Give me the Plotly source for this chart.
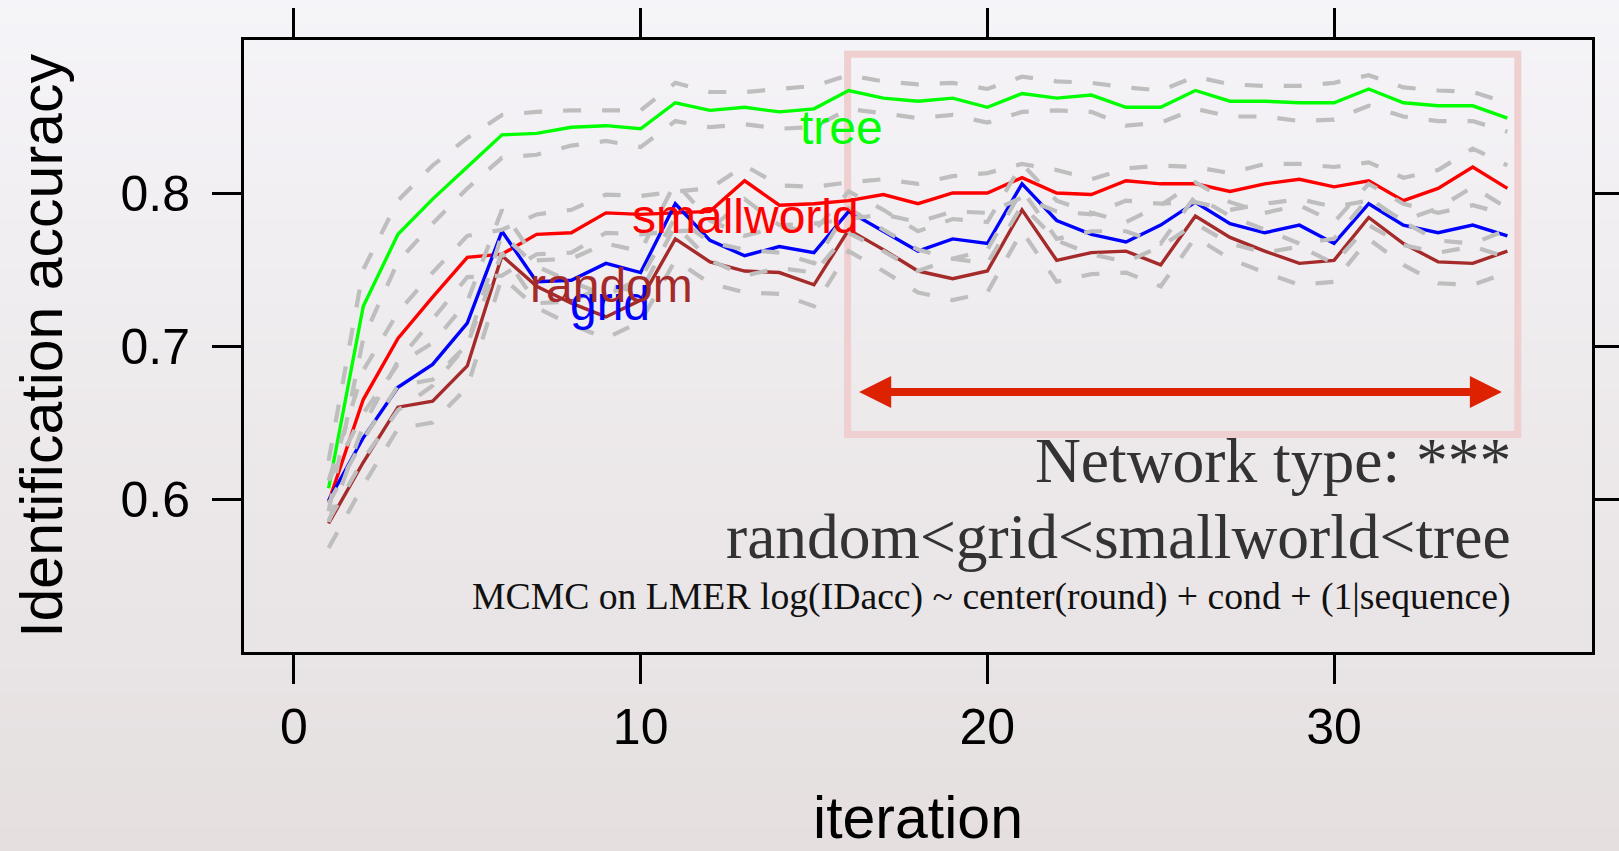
import plotly.graph_objects as go

# ---------------- data ----------------
iteration = list(range(1, 36))

tree = [0.607, 0.726, 0.773, 0.796, 0.817, 0.838, 0.839, 0.843, 0.844, 0.842,
        0.859, 0.854, 0.856, 0.853, 0.855, 0.867, 0.862, 0.860, 0.862, 0.856,
        0.865, 0.862, 0.864, 0.856, 0.856, 0.867, 0.860, 0.860, 0.859, 0.859,
        0.868, 0.859, 0.857, 0.857, 0.849]
tree_hi = [0.625, 0.750, 0.795, 0.818, 0.836, 0.851, 0.853, 0.854, 0.854, 0.854,
           0.872, 0.866, 0.866, 0.868, 0.870, 0.877, 0.873, 0.871, 0.872, 0.868,
           0.876, 0.873, 0.872, 0.869, 0.867, 0.876, 0.871, 0.870, 0.870, 0.872,
           0.877, 0.869, 0.867, 0.866, 0.859]
tree_lo = [0.592, 0.705, 0.755, 0.780, 0.803, 0.823, 0.825, 0.831, 0.834, 0.830,
           0.847, 0.843, 0.845, 0.842, 0.843, 0.855, 0.852, 0.849, 0.851, 0.846,
           0.853, 0.854, 0.853, 0.844, 0.846, 0.855, 0.850, 0.850, 0.847, 0.848,
           0.857, 0.850, 0.847, 0.847, 0.840]

smallworld = [0.598, 0.665, 0.705, 0.732, 0.758, 0.760, 0.773, 0.774, 0.787, 0.786,
              0.787, 0.788, 0.808, 0.792, 0.793, 0.795, 0.799, 0.793, 0.800, 0.800,
              0.810, 0.800, 0.799, 0.808, 0.806, 0.806, 0.801, 0.806, 0.809, 0.804,
              0.808, 0.795, 0.803, 0.817, 0.803]
smallworld_hi = [0.612, 0.684, 0.722, 0.748, 0.772, 0.776, 0.786, 0.789, 0.799, 0.798,
                 0.801, 0.803, 0.818, 0.805, 0.804, 0.807, 0.809, 0.806, 0.811, 0.813,
                 0.819, 0.815, 0.809, 0.816, 0.818, 0.817, 0.813, 0.819, 0.819, 0.817,
                 0.820, 0.810, 0.815, 0.829, 0.818]
smallworld_lo = [0.585, 0.648, 0.690, 0.718, 0.745, 0.746, 0.760, 0.761, 0.774, 0.773,
                 0.775, 0.776, 0.796, 0.779, 0.780, 0.783, 0.786, 0.781, 0.788, 0.787,
                 0.797, 0.788, 0.786, 0.795, 0.793, 0.794, 0.789, 0.793, 0.796, 0.791,
                 0.795, 0.782, 0.790, 0.804, 0.790]

grid = [0.599, 0.640, 0.673, 0.688, 0.715, 0.775, 0.742, 0.743, 0.754, 0.748,
        0.793, 0.769, 0.759, 0.765, 0.761, 0.788, 0.775, 0.762, 0.770, 0.767,
        0.806, 0.782, 0.773, 0.768, 0.779, 0.794, 0.780, 0.774, 0.779, 0.767,
        0.793, 0.779, 0.774, 0.779, 0.772]
grid_hi = [0.612, 0.656, 0.688, 0.702, 0.729, 0.789, 0.756, 0.757, 0.767, 0.762,
           0.807, 0.782, 0.772, 0.778, 0.775, 0.801, 0.789, 0.775, 0.783, 0.781,
           0.819, 0.795, 0.787, 0.781, 0.792, 0.807, 0.794, 0.787, 0.792, 0.781,
           0.806, 0.793, 0.787, 0.792, 0.786]
grid_lo = [0.586, 0.626, 0.658, 0.674, 0.701, 0.761, 0.728, 0.729, 0.740, 0.735,
           0.779, 0.756, 0.746, 0.751, 0.748, 0.774, 0.762, 0.749, 0.757, 0.754,
           0.792, 0.769, 0.760, 0.755, 0.765, 0.780, 0.767, 0.761, 0.765, 0.754,
           0.779, 0.766, 0.761, 0.765, 0.758]

random_ = [0.584, 0.624, 0.660, 0.664, 0.687, 0.759, 0.739, 0.728, 0.719, 0.730,
           0.770, 0.755, 0.749, 0.748, 0.740, 0.776, 0.763, 0.749, 0.744, 0.749,
           0.789, 0.756, 0.761, 0.762, 0.753, 0.785, 0.771, 0.762, 0.754, 0.756,
           0.784, 0.767, 0.755, 0.754, 0.762]
random_hi = [0.597, 0.639, 0.674, 0.678, 0.701, 0.773, 0.752, 0.742, 0.733, 0.744,
             0.784, 0.768, 0.763, 0.761, 0.754, 0.790, 0.776, 0.763, 0.757, 0.763,
             0.802, 0.770, 0.775, 0.775, 0.767, 0.798, 0.785, 0.776, 0.767, 0.770,
             0.797, 0.781, 0.769, 0.767, 0.776]
random_lo = [0.568, 0.609, 0.646, 0.650, 0.673, 0.745, 0.725, 0.714, 0.705, 0.716,
             0.756, 0.741, 0.735, 0.734, 0.726, 0.762, 0.749, 0.735, 0.730, 0.735,
             0.775, 0.742, 0.747, 0.748, 0.739, 0.771, 0.757, 0.748, 0.740, 0.742,
             0.770, 0.753, 0.741, 0.740, 0.748]

x_ticks = [0, 10, 20, 30]
y_ticks = [0.6, 0.7, 0.8]
y_ticktext = ["0.6", "0.7", "0.8"]

series_names = ["tree", "smallworld", "grid", "random"]
series_colors = ["#00ff00", "#ff0000", "#0000ff", "#a52a2a"]
label_x = [15.78, 13.02, 9.12, 9.15]
label_y = [0.843, 0.7844, 0.728, 0.7394]

# ---------------- figure ----------------
W, H = 1619, 851
ML, MR, MT, MB = 244, 27, 40, 199

fig = go.Figure()

means = [tree, smallworld, grid, random_]
his = [tree_hi, smallworld_hi, grid_hi, random_hi]
los = [tree_lo, smallworld_lo, grid_lo, random_lo]

for name, col, ys in zip(series_names, series_colors, means):
    fig.add_trace(go.Scatter(x=iteration, y=ys, mode="lines", name=name,
                             line=dict(color=col, width=3.4), showlegend=False))
for name, hi, lo in zip(series_names, his, los):
    for ys, tag in ((hi, "upper"), (lo, "lower")):
        fig.add_trace(go.Scatter(x=iteration, y=ys, mode="lines",
                                 name=f"{name} {tag}",
                                 line=dict(color="#bebebe", width=4.2, dash="18px,21px"),
                                 showlegend=False))

# background gradient (figure-wide)
shapes = []
n = 70
pw = W - ML - MR
ph = H - MT - MB
y_top = 1 + MT / ph
y_bot = -MB / ph
x_left = -ML / pw
x_right = 1 + MR / pw
c_top = (245, 244, 248)
c_bot = (229, 223, 223)
for k in range(n):
    t = (k + 0.5) / n
    c = tuple(round(c_top[j] + (c_bot[j] - c_top[j]) * t) for j in range(3))
    y1 = y_top - (y_top - y_bot) * k / n
    y0 = y_top - (y_top - y_bot) * (k + 1) / n - 0.002
    shapes.append(dict(type="rect", xref="paper", yref="paper", x0=x_left, x1=x_right,
                       y0=y0, y1=y1, line=dict(width=0),
                       fillcolor=f"rgb({c[0]},{c[1]},{c[2]})", layer="below"))

# pink highlight rectangle
shapes.append(dict(type="rect", xref="x", yref="y", x0=15.97, x1=35.30, y0=0.6422, y1=0.8907,
                   line=dict(color="#efcfcf", width=7), fillcolor="rgba(0,0,0,0)",
                   layer="below"))

annotations = []
for name, col, lx, ly in zip(series_names, series_colors, label_x, label_y):
    annotations.append(dict(x=lx, y=ly, xref="x", yref="y", text=name, showarrow=False,
                            font=dict(family="Liberation Sans, Arial, sans-serif",
                                      size=48, color=col),
                            xanchor="center", yanchor="middle"))

# double-headed arrow
annotations.append(dict(x=34.84, y=0.67, ax=16.26, ay=0.67, xref="x", yref="y",
                        axref="x", ayref="y", text="", showarrow=True,
                        arrowhead=2, startarrowhead=2, arrowside="end+start",
                        arrowwidth=8, arrowsize=0.8, startarrowsize=0.8,
                        arrowcolor="#dc2200", standoff=0, startstandoff=0))

serif = "Liberation Serif, Times New Roman, serif"
tx = 35.17
annotations.append(dict(x=tx, y=0.625, xref="x", yref="y", text="Network type: ***",
                        showarrow=False, xanchor="right", yanchor="middle",
                        font=dict(family=serif, size=63.5, color="#333333")))
annotations.append(dict(x=tx, y=0.5757, xref="x", yref="y",
                        text="random&lt;grid&lt;smallworld&lt;tree",
                        showarrow=False, xanchor="right", yanchor="middle",
                        font=dict(family=serif, size=63.5, color="#333333")))
annotations.append(dict(x=tx, y=0.5365, xref="x", yref="y",
                        text="MCMC on LMER log(IDacc) ~ center(round) + cond + (1|sequence)",
                        showarrow=False, xanchor="right", yanchor="middle",
                        font=dict(family=serif, size=37.7, color="#111111")))

axis_common = dict(showgrid=False, zeroline=False, showline=True, linecolor="black",
                   linewidth=3, mirror="allticks", ticks="outside", ticklen=29,
                   tickwidth=3, tickcolor="black", automargin=False,
                   tickfont=dict(family="Liberation Sans, Arial, sans-serif",
                                 size=50, color="black"))

fig.update_layout(
    width=W, height=H, autosize=False,
    margin=dict(l=ML, r=MR, t=MT, b=MB, pad=0, autoexpand=False),
    paper_bgcolor="rgb(237,234,236)",
    plot_bgcolor="rgba(0,0,0,0)",
    showlegend=False,
    shapes=shapes,
    annotations=annotations,
    xaxis=dict(range=[-1.44, 37.44], tickvals=x_ticks, ticklabelstandoff=0,
               title=dict(text="iteration", standoff=55,
                          font=dict(family="Liberation Sans, Arial, sans-serif",
                                    size=59, color="black")),
               **axis_common),
    yaxis=dict(range=[0.5, 0.9], tickvals=y_ticks, ticktext=y_ticktext,
               ticklabelstandoff=12,
               title=dict(text="Identification accuracy", standoff=39,
                          font=dict(family="Liberation Sans, Arial, sans-serif",
                                    size=59, color="black")),
               **axis_common),
)

fig.write_html("out.html")
